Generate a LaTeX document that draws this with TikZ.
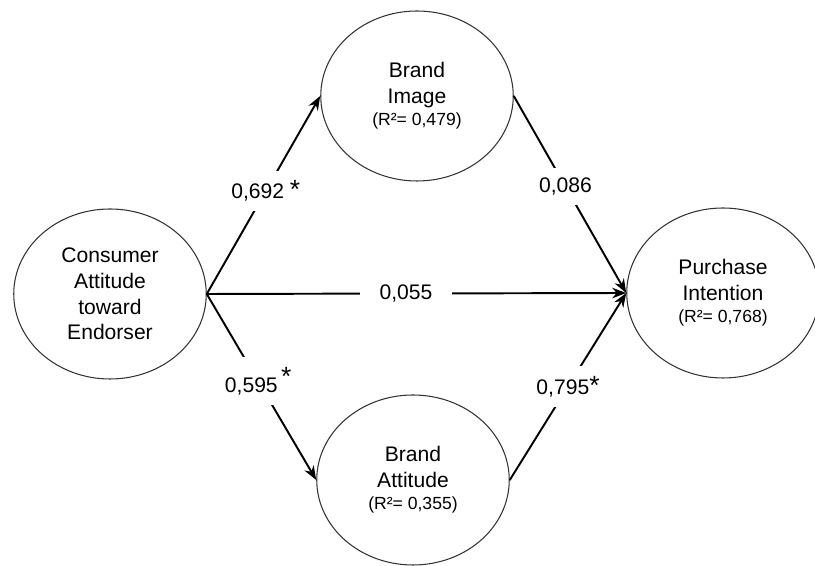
\documentclass[tikz,border=0pt]{standalone}
\usepackage{fontspec}
\setmainfont{Liberation Sans}
\usetikzlibrary{arrows.meta, shapes.geometric}
\newcommand{\sig}{{\fontsize{15}{15}\selectfont *}}
\tikzset{
    pathmodel/.style={
        font=\fontsize{12}{14.6}\selectfont,
        >={Stealth[length=8pt, width=6pt]},
        construct/.style={ellipse, draw=black!80, line width=0.6pt, minimum width=3.85cm, minimum height=3.4cm, align=center, inner sep=0pt},
        arrow/.style={line width=1.1pt, ->},
        coeff/.style={fill=white, inner xsep=0.4cm, inner ysep=0.2cm}
    }
}

\begin{document}
\begin{tikzpicture}[pathmodel]
        \useasboundingbox (0,0) rectangle (16.3,11.32);

        % Constructs
        \node[construct] (cons) at (2.2, 5.44) {Consumer\\Attitude\\toward\\Endorser};
        \node[construct] (img) at (8.34, 9.4) {Brand\\Image\\[-2pt]{\fontsize{10}{12}\selectfont (R²= 0,479)}};
        \node[construct] (att) at (8.26, 1.72) {Brand\\Attitude\\[-2pt]{\fontsize{10}{12}\selectfont (R²= 0,355)}};
        \node[construct] (pur) at (14.46, 5.46) {Purchase\\Intention\\[-2pt]{\fontsize{10}{12}\selectfont (R²= 0,768)}};

        % Paths from the endorser attitude
        \draw[arrow] (cons.east) -- (img.west) node[coeff, pos=0.52] {0,692 \sig};
        \draw[arrow] (cons.east) -- (att.west) node[coeff, pos=0.47] {0,595\,\raisebox{4pt}{\sig}};
        \draw[arrow] (cons.east) -- (pur.west) node[coeff, pos=0.475] {0,055};

        % Paths to purchase intention
        \draw[arrow] (img.east) -- (pur.west) node[coeff, pos=0.46] {0,086};
        \draw[arrow] (att.east) -- (pur.west) node[coeff, pos=0.5] {0,795\sig};

    \end{tikzpicture}
\end{document}
